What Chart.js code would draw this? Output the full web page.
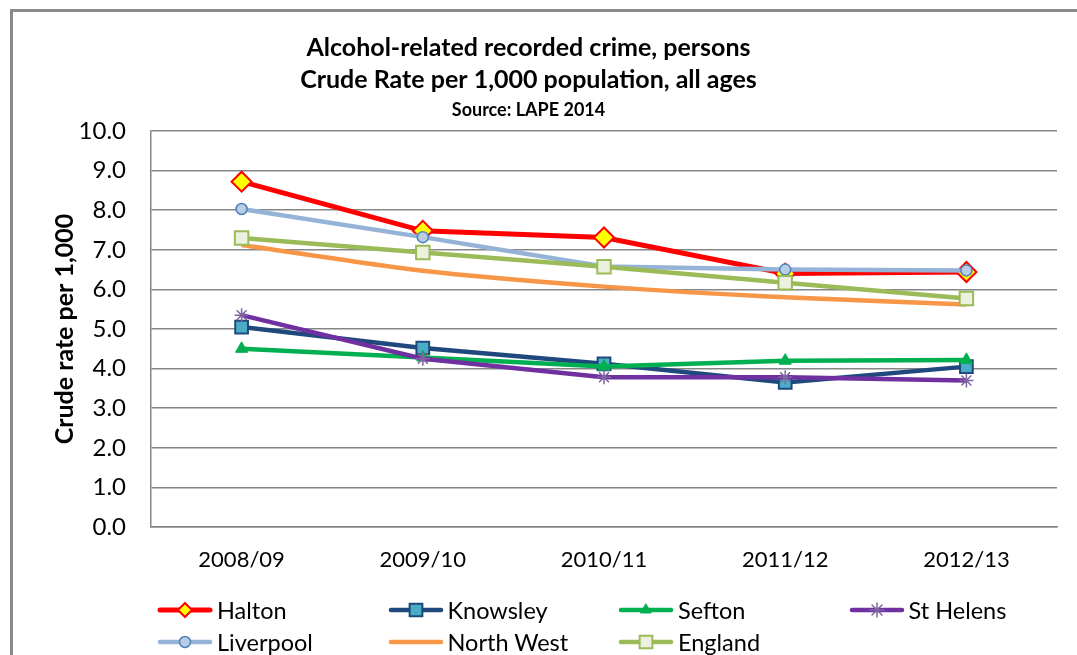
<!DOCTYPE html>
<html>
<head>
<meta charset="utf-8">
<title>Alcohol-related recorded crime</title>
<script src="https://cdn.jsdelivr.net/npm/chart.js@4.4.1/dist/chart.umd.min.js"></script>
<style>
    html, body { margin: 0; padding: 0; background: #fff; }
    body { width: 1077px; height: 655px; position: relative; overflow: hidden; font-family: Lato, 'Open Sans', sans-serif; }
    #frame { position: absolute; left: 10px; top: 9px; width: 1100px; height: 700px; border-left: 3px solid #8a8a8a; border-top: 3px solid #8a8a8a; }
    #chart { position: absolute; left: 0; top: 0; }
    #legend { position: absolute; left: 157px; top: 594px; display: grid; grid-template-columns: repeat(4, 230.5px); grid-auto-rows: 32px; }
    .item { display: flex; align-items: center; font-size: 23.5px; color: #000; white-space: nowrap; }
    .item canvas { margin-right: 4px; }
</style>
</head>
<body>
<div id="frame"></div>
<canvas id="chart" width="1077" height="655"></canvas>
<div id="legend"></div>
<script>
// Categories and values
const years = ['2008/09', '2009/10', '2010/11', '2011/12', '2012/13'];
const halton = [8.72, 7.48, 7.31, 6.40, 6.44];
const knowsley = [5.05, 4.52, 4.12, 3.65, 4.05];
const sefton = [4.50, 4.28, 4.05, 4.20, 4.22];
const stHelens = [5.35, 4.25, 3.78, 3.78, 3.70];
const liverpool = [8.03, 7.32, 6.58, 6.50, 6.48];
const northWest = [7.12, 6.47, 6.07, 5.80, 5.62];
const england = [7.30, 6.93, 6.57, 6.17, 5.77];
const yTicks = [0, 1, 2, 3, 4, 5, 6, 7, 8, 9, 10];

const GRID = '#868686';

// Series in legend order (row by row, as Excel lays them out)
const SERIES = [
    { label: 'Halton', data: halton, line: '#ff0000', width: 5, style: 'rectRot', radius: 10, fill: '#ffff00', border: '#ff0000', bw: 2, legendRadius: 7 },
    { label: 'Knowsley', data: knowsley, line: '#1f497d', width: 4.5, style: 'rect', radius: 9, fill: '#4bacc6', border: '#1f497d', bw: 2, legendRadius: 9 },
    { label: 'Sefton', data: sefton, line: '#00b050', width: 4.5, style: 'triangle', radius: 7, fill: '#00b050', border: '#00b050', bw: 1, legendRadius: 6 },
    { label: 'St Helens', data: stHelens, line: '#7030a0', width: 4.5, style: 'star', radius: 7, fill: '#8064a2', border: '#8064a2', bw: 1.5, legendRadius: 7 },
    { label: 'Liverpool', data: liverpool, line: '#95b3d7', width: 4.5, style: 'circle', radius: 5.5, fill: '#b9cde5', border: '#4f81bd', bw: 1.5, legendRadius: 5.5 },
    { label: 'North West', data: northWest, line: '#f79646', width: 4.5, style: false, radius: 0, fill: '#f79646', border: '#f79646', bw: 0, tension: 0.25 },
    { label: 'England', data: england, line: '#9bbb59', width: 4.5, style: 'rect', radius: 9.5, fill: '#ebf1de', border: '#9bbb59', bw: 2, legendRadius: 9 }
];

const datasets = SERIES.map((s, i) => ({
    label: s.label,
    data: s.data,
    borderColor: s.line,
    borderWidth: s.width,
    backgroundColor: s.line,
    pointStyle: s.style,
    pointRadius: s.radius,
    pointHoverRadius: s.radius,
    pointBackgroundColor: s.fill,
    pointBorderColor: s.border,
    pointBorderWidth: s.bw,
    tension: s.tension || 0,
    fill: false,
    order: -i   // later series drawn on top, like Excel
}));

new Chart(document.getElementById('chart'), {
    type: 'line',
    data: { labels: years, datasets: datasets },
    options: {
        responsive: false,
        animation: false,
        events: [],
        layout: { padding: { left: 0, right: 20, top: 0, bottom: 0 } },
        plugins: {
            legend: { display: false },
            tooltip: { enabled: false },
            title: {
                display: true,
                text: ['Alcohol-related recorded crime, persons', 'Crude Rate per 1,000 population, all ages'],
                color: '#000',
                font: { family: 'Lato', size: 25, weight: 'bold', lineHeight: '32px' },
                padding: { top: 32, bottom: 2 }
            },
            subtitle: {
                display: true,
                text: 'Source: LAPE 2014',
                color: '#000',
                font: { family: 'Lato', size: 18, weight: 'bold', lineHeight: '24px' },
                padding: { top: 0, bottom: 9 }
            }
        },
        scales: {
            x: {
                offset: true,
                grid: { display: false, drawTicks: false },
                border: { display: true, color: GRID, width: 1.5 },
                ticks: { color: '#000', font: { family: 'Lato', size: 22 }, padding: 20 },
                afterFit: scale => { scale.height = 128; }
            },
            y: {
                min: 0,
                max: 10,
                afterBuildTicks: scale => { scale.ticks = yTicks.map(v => ({ value: v })); },
                grid: { color: GRID, lineWidth: 1.5, drawTicks: false },
                border: { display: true, color: GRID, width: 1.5 },
                ticks: {
                    color: '#000',
                    font: { family: 'Lato', size: 24 },
                    padding: 25,
                    callback: v => v.toFixed(1)
                },
                title: {
                    display: true,
                    text: 'Crude rate per 1,000',
                    color: '#000',
                    font: { family: 'Lato', size: 25, weight: 'bold', lineHeight: 1.2 },
                    padding: { top: 50, bottom: 0 }
                },
                afterFit: scale => { scale.width = 151; }
            }
        }
    }
});

// HTML legend, 4 columns like the Excel legend
const legendEl = document.getElementById('legend');
SERIES.forEach(s => {
    const item = document.createElement('div');
    item.className = 'item';
    const c = document.createElement('canvas');
    c.width = 56;
    c.height = 24;
    const ctx = c.getContext('2d');
    ctx.strokeStyle = s.line;
    ctx.lineWidth = s.width;
    ctx.lineCap = 'round';
    ctx.beginPath();
    ctx.moveTo(3, 12);
    ctx.lineTo(53, 12);
    ctx.stroke();
    if (s.style) {
        ctx.fillStyle = s.fill;
        ctx.strokeStyle = s.border;
        ctx.lineWidth = s.bw;
        Chart.helpers.drawPoint(ctx, { pointStyle: s.style, radius: s.legendRadius, borderWidth: s.bw, rotation: 0 }, 28, 12);
    }
    const span = document.createElement('span');
    span.textContent = s.label;
    item.appendChild(c);
    item.appendChild(span);
    legendEl.appendChild(item);
});
</script>
</body>
</html>
